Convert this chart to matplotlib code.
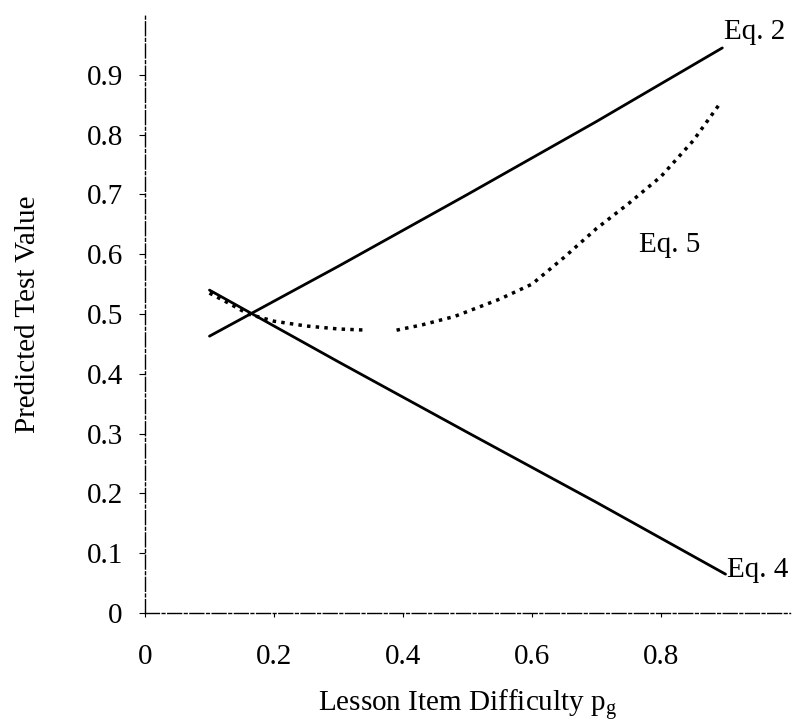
import numpy as np
import matplotlib
matplotlib.use("Agg")
import matplotlib.pyplot as plt

plt.rcParams['font.family'] = ['Liberation Serif', 'DejaVu Serif']
plt.rcParams['mathtext.fontset'] = 'custom'
plt.rcParams['mathtext.rm'] = 'Liberation Serif'
plt.rcParams['mathtext.it'] = 'Liberation Serif:italic'

# Data
eq2_x = [0.10, 0.30, 0.50, 0.70, 0.895]
eq2_y = [0.463, 0.580, 0.700, 0.822, 0.945]

eq4_x = [0.10, 0.30, 0.50, 0.70, 0.90]
eq4_y = [0.540, 0.420, 0.302, 0.185, 0.065]

eq5_x = [0.10, 0.13, 0.16, 0.20, 0.25, 0.30, 0.345, np.nan,
         0.39, 0.43, 0.48, 0.55, 0.60, 0.65, 0.70, 0.75, 0.80, 0.85, 0.89]
eq5_y = [0.535, 0.518, 0.500, 0.488, 0.480, 0.475, 0.473, np.nan,
         0.473, 0.482, 0.496, 0.525, 0.550, 0.595, 0.643, 0.685, 0.730, 0.790, 0.850]

x_ticks = [0, 0.2, 0.4, 0.6, 0.8]
x_tick_labels = ["0", "0.2", "0.4", "0.6", "0.8"]
y_ticks = [0, 0.1, 0.2, 0.3, 0.4, 0.5, 0.6, 0.7, 0.8, 0.9]
y_tick_labels = ["0", "0.1", "0.2", "0.3", "0.4", "0.5", "0.6", "0.7", "0.8", "0.9"]

labels = ["Eq. 2", "Eq. 4", "Eq. 5"]
label_pos = [(0.898, 0.972), (0.902, 0.072), (0.766, 0.616)]

fig = plt.figure(figsize=(7.94, 7.26), dpi=100)
ax = fig.add_axes([0.1826, 0.1556, 0.8124, 0.8237])

ax.plot(eq2_x, eq2_y, color='black', lw=2.0, solid_capstyle='round')
ax.plot(eq4_x, eq4_y, color='black', lw=2.0, solid_capstyle='round')
ax.plot(eq5_x, eq5_y, color='black', lw=2.5, linestyle=(0, (1, 1.5)))

for t, (lx, ly) in zip(labels, label_pos):
    ax.text(lx, ly, t, fontsize=21, ha='left', va='center')

ax.set_xlim(0, 1.0)
ax.set_ylim(0, 1.0)
ax.set_xticks(x_ticks)
ax.set_xticklabels(x_tick_labels)
ax.set_yticks(y_ticks)
ax.set_yticklabels(y_tick_labels)

ax.tick_params(axis='y', direction='out', length=4, width=0.8, pad=12, labelsize=21)
ax.tick_params(axis='x', direction='out', length=3, width=0.8, pad=19, labelsize=21)

for s in ['top', 'right']:
    ax.spines[s].set_visible(False)
ax.spines['left'].set_linestyle((0, (10, 2, 2, 2)))
ax.spines['bottom'].set_linestyle((0, (10, 2, 2, 2)))
ax.spines['left'].set_linewidth(1.0)
ax.spines['bottom'].set_linewidth(1.0)

ax.set_xlabel("Lesson Item Difficulty p$_{\\mathrm{g}}$", fontsize=21, labelpad=13)
ax.set_ylabel("Predicted Test Value", fontsize=21, labelpad=33)

fig.savefig("out.png", dpi=100)
